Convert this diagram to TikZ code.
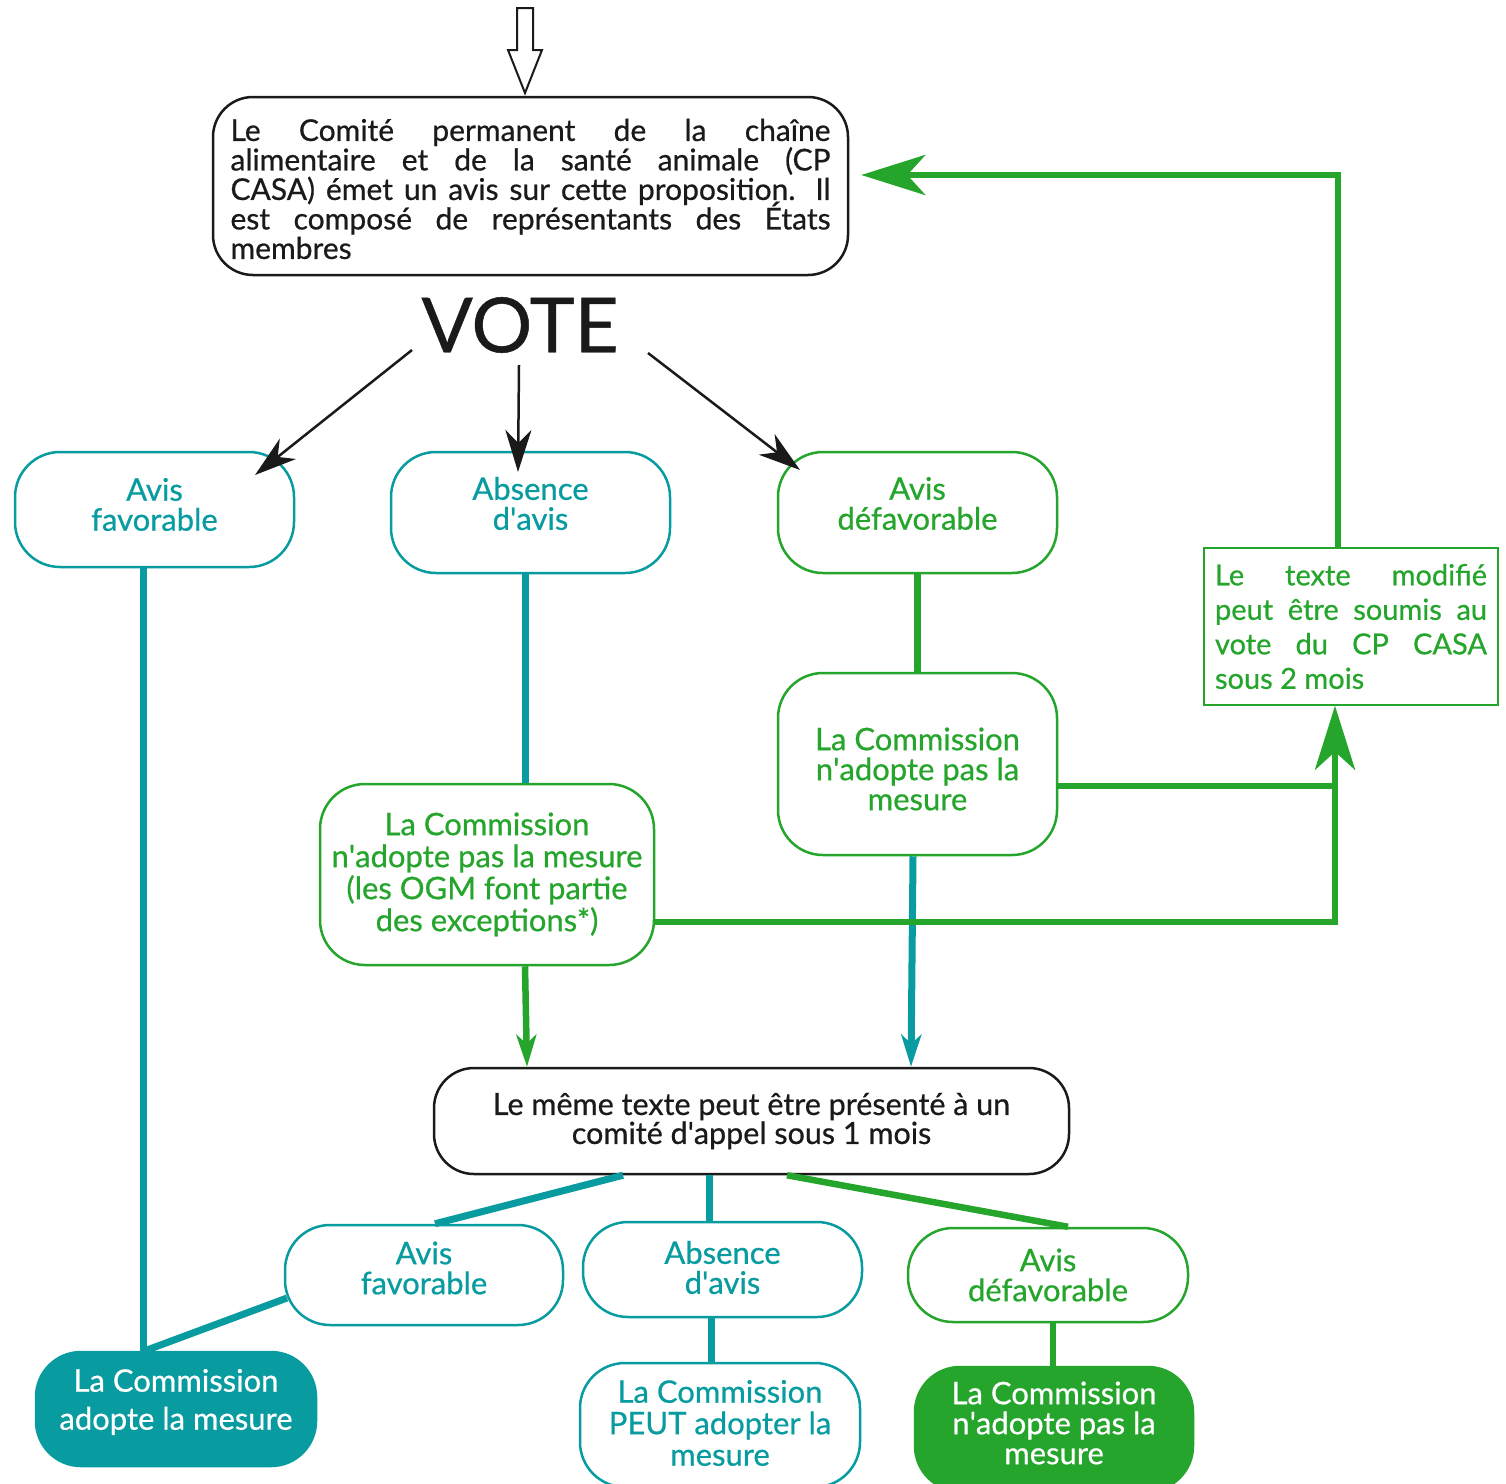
\documentclass[tikz,border=0pt]{standalone}
\usepackage{fontspec}
\setmainfont{Lato}[FakeBold=0.6]
\usetikzlibrary{arrows.meta}
\definecolor{tealc}{RGB}{8,156,160}
\definecolor{greenc}{RGB}{37,165,44}
\definecolor{blk}{RGB}{26,26,26}
\newcommand\fsz[2]{\fontsize{#1}{#2}\selectfont}
\newcommand\ap{\textquotesingle}
\newcommand\upc[2]{\raisebox{#1}[\height][\depth]{\vbox{\lineskiplimit=-100pt\lineskip=0pt\halign{\hfil##\hfil\cr#2\crcr}}}}
\newcommand\upl[2]{\raisebox{#1}[\height][\depth]{\vbox{\lineskiplimit=-100pt\lineskip=0pt\halign{##\hfil\cr#2\crcr}}}}
\begin{document}
\begin{tikzpicture}[x=1pt,y=-1pt,
  basebox/.style={line width=2.5pt, inner sep=0pt, align=center},
  tbox/.style={basebox, draw=tealc, text=tealc, rounded corners=45pt, font=\fsz{31}{30}},
  gbox/.style={basebox, draw=greenc, text=greenc, rounded corners=45pt, font=\fsz{31}{30}},
  kbox/.style={basebox, draw=blk, text=blk, rounded corners=40pt},
  barrow/.style={draw=blk, line width=2.5pt, -{Stealth[length=42pt,width=26pt,inset=13pt]}},
  tline/.style={draw=tealc, line width=7pt},
  gline/.style={draw=greenc, line width=6.5pt},
  bigtip/.style={-{Stealth[length=64pt,width=40pt,inset=18pt]}},
  smalltip/.style={-{Stealth[length=32pt,width=20pt,inset=9pt]}},
]
\useasboundingbox (0,0) rectangle (1506,1483);
\clip (0,0) rectangle (1506,1483);
\fill[white] (0,0) rectangle (1506,1483);

% top hollow arrow
\draw[blk, line width=2pt, fill=white, line join=miter]
  (517,8) -- (533,8) -- (533,50) -- (542,50) -- (525,93) -- (508,50) -- (517,50) -- cycle;

% top box
\node[kbox, minimum width=635pt, minimum height=178pt, font=\fsz{30}{29.5}] (cp) at (530.5,186)
 {\upl{-3pt}{\makebox[600pt][s]{Le Comité permanent de la chaîne}\cr
  \makebox[600pt][s]{alimentaire et de la santé animale (CP}\cr
  \makebox[600pt][s]{CASA) émet un avis sur cette proposition. Il}\cr
  \makebox[600pt][s]{est composé de représentants des États}\cr
  membres}};

\node[text=blk, font=\fsz{76}{76}, inner sep=0pt] (vote) at (520,325) {VOTE};

% first row
\node[tbox, minimum width=279pt, minimum height=115pt] (af1) at (154.5,509.5) {\upc{5pt}{Avis\cr favorable}};
\node[tbox, minimum width=279pt, minimum height=121pt] (ab1) at (530.5,512.5) {\upc{9pt}{Absence\cr d\ap avis}};
\node[gbox, minimum width=279pt, minimum height=121pt] (df1) at (917.5,512.5) {\upc{9pt}{Avis\cr défavorable}};

\node[gbox, minimum width=279pt, minimum height=182pt] (cm2) at (917.5,764) {\upc{-5pt}{La Commission\cr n\ap adopte pas la\cr mesure}};
\node[gbox, minimum width=334pt, minimum height=181pt, font=\fsz{31}{32}] (cm1) at (487,874.5)
 {La Commission\\n\ap adopte pas la mesure\\(les OGM font partie\\des exceptions*)};

\node[draw=greenc, line width=1.5pt, minimum width=294pt, minimum height=157pt, inner sep=0pt,
      text=greenc, font=\fsz{29}{34.5}, align=left] (rt) at (1351,626.5)
 {\makebox[272pt][s]{Le texte modifié}\\
  \makebox[272pt][s]{peut être soumis au}\\
  \makebox[272pt][s]{vote du CP CASA}\\
  sous 2 mois};

\node[kbox, minimum width=635pt, minimum height=106pt, font=\fsz{30.5}{29}] (mt) at (751.5,1121)
 {Le même texte peut être présenté à un\\comité d\ap appel sous 1 mois};

% second row
\node[tbox, minimum width=278pt, minimum height=100pt] (af2) at (424,1275) {\upc{7pt}{Avis\cr favorable}};
\node[tbox, minimum width=279pt, minimum height=95pt] (ab2) at (722.5,1269.5) {\upc{2pt}{Absence\cr d\ap avis}};
\node[gbox, minimum width=280pt, minimum height=94pt] (df2) at (1048,1275) {Avis\\défavorable};

% final
\node[basebox, draw=tealc, fill=tealc, text=white, rounded corners=45pt, minimum width=280pt, minimum height=114pt,
      font=\fsz{31}{38}] (ct) at (176,1409) {\upc{7pt}{La Commission\cr adopte la mesure}};
\node[tbox, minimum width=280pt, minimum height=124pt, font=\fsz{31}{31.5}] (cp2) at (720,1425)
 {\upc{2pt}{La Commission\cr PEUT adopter la\cr mesure}};
\node[basebox, draw=greenc, fill=greenc, text=white, rounded corners=45pt, minimum width=278pt, minimum height=124pt,
      font=\fsz{31}{30}] (cn) at (1054,1429) {\upc{6pt}{La Commission\cr n\ap adopte pas la\cr mesure}};

% VOTE arrows
\draw[barrow] ([shift={(-108,25)}]vote.center) -- ([shift={(100.5,-34.5)}]af1.center);
\draw[barrow] ([shift={(-1,40)}]vote.center) -- ([shift={(-12.5,-40.5)}]ab1.center);
\draw[barrow] ([shift={(128,28)}]vote.center) -- ([shift={(-117.5,-42.5)}]df1.center);

% teal / green connectors
\draw[tline] ([xshift=-11.5]af1.south) -- ([xshift=-11.5]af1.south |- ct.north);
\draw[tline] ([xshift=-5.5]ab1.south) -- ([xshift=-5.5]ab1.south |- cm1.north);
\draw[gline] (df1.south) -- (cm2.north);
\draw[tline, smalltip] ([xshift=-4.5]cm2.south) -- ([xshift=-6.5]cm2.south |- mt.north);
\draw[gline, smalltip] ([xshift=38]cm1.south) -- ([xshift=40]cm1.south |- mt.north);

\coordinate (j1) at (1335,922);
\coordinate (j2) at (1335,786);
\coordinate (j3) at (1338,175);
\draw[gline] (cm2.east |- j2) -- (j2);
\draw[gline, bigtip] (cm1.east |- j1) -- (j1) -- (rt.south -| j1);
\draw[gline, bigtip, shorten >=12pt] (rt.north -| j3) -- (j3) -- (cp.east |- j3);

% lower connectors
\draw[tline] ([xshift=-128.5]mt.south) -- ([xshift=11]af2.north);
\draw[tline] ([xshift=-42.5]mt.south) -- ([xshift=-13.5]ab2.north);
\draw[gline] ([xshift=35.5]mt.south) -- ([xshift=20]df2.north);
\draw[tline] ([shift={(-137,23)}]af2.center) -- ([xshift=-31]ct.north);
\draw[tline] ([xshift=-11.5]ab2.south) -- ([xshift=-11.5]ab2.south |- cp2.north);
\draw[gline] ([xshift=5]df2.south) -- ([xshift=5]df2.south |- cn.north);
\end{tikzpicture}
\end{document}
